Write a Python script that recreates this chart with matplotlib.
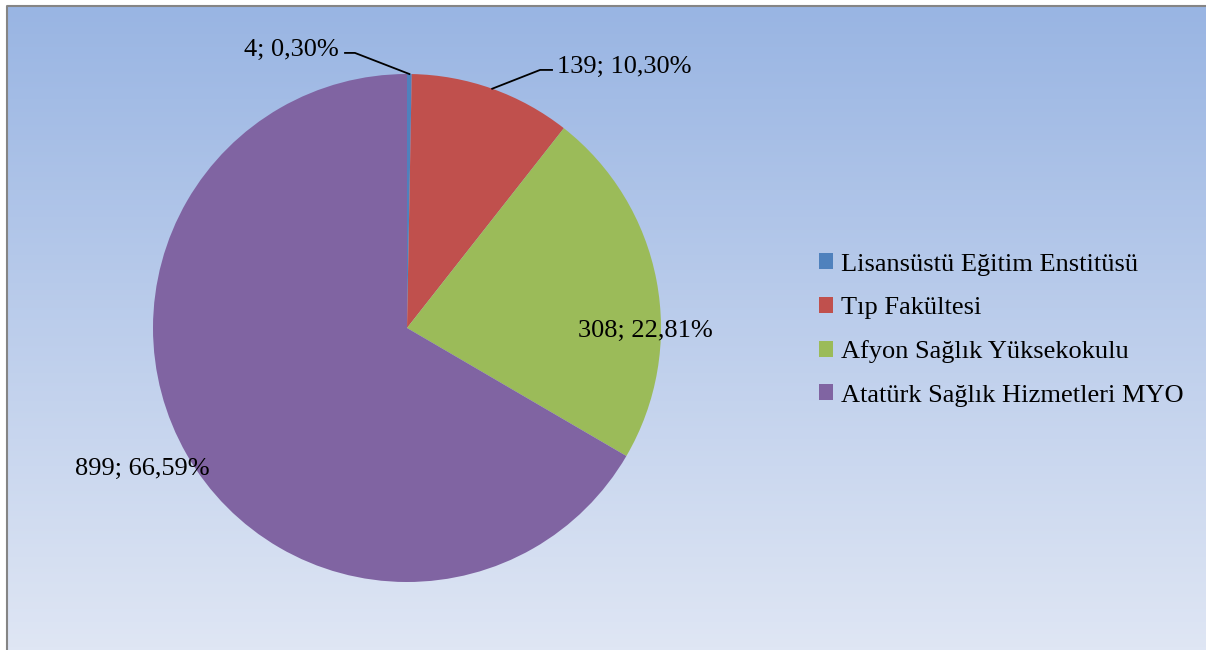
import numpy as np
import matplotlib.pyplot as plt
from matplotlib.colors import LinearSegmentedColormap
from matplotlib.lines import Line2D

plt.rcParams["font.family"] = ["Liberation Serif", "DejaVu Serif"]

categories = [
    "Lisansüstü Eğitim Enstitüsü",
    "Tıp Fakültesi",
    "Afyon Sağlık Yüksekokulu",
    "Atatürk Sağlık Hizmetleri MYO",
]
counts = [4, 139, 308, 899]
percent_labels = ["0,30%", "10,30%", "22,81%", "66,59%"]
colors = ["#4F81BD", "#C0504D", "#9BBB59", "#8064A2"]

W, H = 1206, 650
fig = plt.figure(figsize=(W / 100, H / 100), dpi=100)

# gradient background (drawn in pixels) with grey frame on top/left
cmap = LinearSegmentedColormap.from_list("bg", ["#99B5E3", "#DFE6F4"])
rows = H - 6
grad = cmap(np.linspace(0, 1, rows))[:, :3]
img = np.repeat(grad[:, None, :], W - 7, axis=1)
fig.figimage(img, xo=7, yo=0, origin="upper", zorder=0)
frame = Line2D([6.5 / W, 6.5 / W, 1.0], [0.0, 1 - 5.5 / H, 1 - 5.5 / H],
               transform=fig.transFigure, color="#858585", lw=1.5, zorder=1)
fig.add_artist(frame)

# pie
cx, cy, r = 407, 328, 254
ax = fig.add_axes([(cx - r) / W, (H - cy - r) / H, 2 * r / W, 2 * r / H])
ax.set_zorder(2)
ax.patch.set_visible(False)
wedges, _ = ax.pie(counts, colors=colors, startangle=90, counterclock=False,
                   radius=1, wedgeprops=dict(linewidth=0))
ax.set_xlim(-1, 1)
ax.set_ylim(-1, 1)
ax.axis("off")

labels = [f"{c}; {p}" for c, p in zip(counts, percent_labels)]
fs = 19

# small slices: labels with leader lines
def leader(i, elbow, end, text_xy, ha):
    w = wedges[i]
    ang = np.deg2rad((w.theta1 + w.theta2) / 2)
    p = (np.cos(ang), np.sin(ang))
    ax.plot([p[0], elbow[0], end[0]], [p[1], elbow[1], end[1]],
            color="black", lw=1.3, clip_on=False)
    ax.text(text_xy[0], text_xy[1], labels[i], ha=ha, va="center",
            fontsize=fs, clip_on=False)

leader(0, (-0.205, 1.083), (-0.244, 1.083), (-0.27, 1.095), "right")
leader(1, (0.524, 1.016), (0.571, 1.016), (0.59, 1.027), "left")

ax.text(0.94, -0.01, labels[2], ha="center", va="center", fontsize=fs, clip_on=False)
ax.text(-1.043, -0.555, labels[3], ha="center", va="center", fontsize=fs, clip_on=False)

leg = fig.legend(wedges, categories, loc="center left",
                 bbox_to_anchor=(795 / W, (H - 330) / H), frameon=False,
                 fontsize=fs, handlelength=0.55, handleheight=0.55,
                 handletextpad=0.3, labelspacing=0.8)
leg.set_zorder(3)

fig.savefig("out.png", dpi=100)
